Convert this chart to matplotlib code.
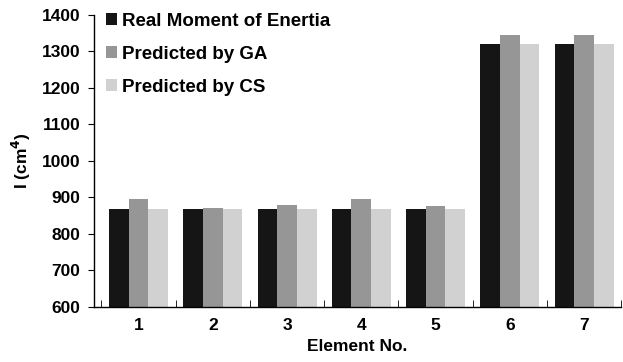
import numpy as np
import matplotlib
matplotlib.use("Agg")
from matplotlib import pyplot as plt

elements = ["1", "2", "3", "4", "5", "6", "7"]
real_moment = [868, 868, 868, 868, 868, 1320, 1320]
predicted_ga = [895, 872, 880, 895, 877, 1344, 1344]
predicted_cs = [868, 868, 868, 868, 868, 1320, 1320]

plt.rcParams['font.family'] = ['Liberation Sans', 'DejaVu Sans']
plt.rcParams['font.weight'] = 'bold'

fig = plt.figure(figsize=(6.23, 3.62), dpi=100)
ax = fig.add_axes([0.151, 0.152, 0.846, 0.807])

x = np.arange(len(elements))
w = 0.265
ax.bar(x - w, real_moment, w, color='#151515', label='Real Moment of Enertia')
ax.bar(x, predicted_ga, w, color='#969696', label='Predicted by GA')
ax.bar(x + w, predicted_cs, w, color='#d0d1d0', label='Predicted by CS')

ax.set_ylim(600, 1400)
ax.set_yticks(range(600, 1401, 100))
ax.set_xlim(-0.6, len(elements) - 0.5)
ax.set_xticks(x)
ax.set_xticklabels(elements)
ax.set_xticks(np.arange(-0.5, len(elements), 1.0), minor=True)
ax.tick_params(axis='x', which='major', length=0, pad=8, labelsize=12.5)
ax.tick_params(axis='x', which='minor', length=5, direction='in')
ax.tick_params(axis='y', length=4, direction='out', labelsize=12.5, pad=6)
for lbl in ax.get_xticklabels() + ax.get_yticklabels():
    lbl.set_fontweight('bold')

for s in ['top', 'right']:
    ax.spines[s].set_visible(False)
ax.spines['left'].set_linewidth(1.0)
ax.spines['bottom'].set_linewidth(1.0)

ax.set_xlabel('Element No.', fontsize=12.5, fontweight='bold', labelpad=4)
ax.set_ylabel('I (cm$^4$)', fontsize=12.5, fontweight='bold', labelpad=6)

leg = ax.legend(loc='upper left', frameon=False, fontsize=13.5,
                handlelength=0.6, handleheight=0.6, handletextpad=0.25,
                labelspacing=0.85, bbox_to_anchor=(-0.01, 1.065))
for t in leg.get_texts():
    t.set_fontweight('bold')

fig.savefig('out.png', dpi=100)
